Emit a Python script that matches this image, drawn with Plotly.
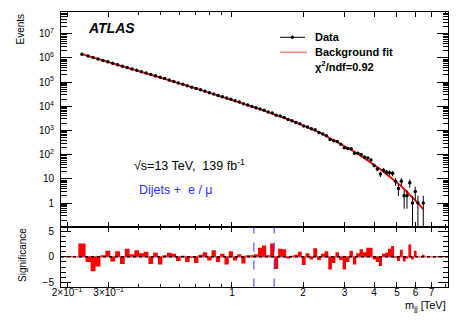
import numpy as np
import plotly.graph_objects as go

# dijet invariant mass bin edges [TeV]
bin_edges = [0.2233, 0.2397, 0.2517, 0.2642, 0.2772, 0.2908, 0.3050, 0.3199, 0.3353, 0.3514,
             0.3682, 0.3858, 0.4040, 0.4229, 0.4427, 0.4635, 0.4850, 0.5072, 0.5305, 0.5548,
             0.5796, 0.6056, 0.6328, 0.6612, 0.6902, 0.7205, 0.7522, 0.7850, 0.8196, 0.8546,
             0.8913, 0.9295, 0.9692, 1.0098, 1.0520, 1.0960, 1.1420, 1.1897, 1.2384, 1.2889,
             1.3414, 1.3961, 1.4516, 1.5095, 1.5696, 1.6319, 1.6969, 1.7627, 1.8310, 1.9019,
             1.9757, 2.0523, 2.1301, 2.2106, 2.294, 2.381, 2.469, 2.559, 2.651, 2.745,
             2.844, 2.942, 3.044, 3.147, 3.253, 3.363, 3.473, 3.587, 3.704, 3.822,
             3.943, 4.068, 4.193, 4.321, 4.454, 4.586, 4.723, 4.863, 5.003, 5.146,
             5.293, 5.440, 5.591, 5.745, 5.899, 6.056, 6.218, 6.384, 6.548]

# observed events per bin
data_events = [1433000, 1204000, 1044000, 909200, 794300, 693000, 602300, 526800, 459100, 403000,
               352300, 308700, 270400, 236500, 206400, 182300, 159400, 140100, 122000, 106600,
               92860, 81360, 70830, 62250, 54420, 48090, 42290, 36770, 32630, 28330,
               25200, 21880, 19650, 17010, 14960, 12850, 11380, 9940, 8717, 7747,
               6829, 5843, 5296, 4329, 4020, 3457, 2884, 2510, 2169, 1903,
               1536, 1406, 1180, 1083, 830, 716, 607, 427, 378, 351,
               270, 196, 182, 178, 115, 115, 102, 80, 73, 61,
               36, 26, 16, 23, 19, 18, 17, 8, 4, 8,
               2, 2, 7, 1, 3, 1, 0, 1]

# background fit per bin
fit_events = [1.43e6, 1.205e6, 1.047e6, 9.11e5, 7.94e5, 6.92e5, 6.03e5, 5.26e5, 4.60e5, 4.02e5,
              3.52e5, 3.08e5, 2.70e5, 2.36e5, 2.07e5, 1.82e5, 1.60e5, 1.40e5, 1.217e5, 1.064e5,
              9.31e4, 8.13e4, 7.11e4, 6.23e4, 5.47e4, 4.80e4, 4.21e4, 3.69e4, 3.24e4, 2.85e4,
              2.51e4, 2.21e4, 1.95e4, 1.71e4, 1.49e4, 1.30e4, 1.135e4, 9910, 8670, 7590,
              6650, 5820, 5110, 4490, 3920, 3370, 2900, 2500, 2150, 1860,
              1600, 1380, 1197, 1028, 847, 700, 580, 482, 402, 335,
              280, 234, 196, 163, 132, 108, 88.0, 71.9, 58.9, 48.3,
              39.4, 31.3, 24.9, 19.9, 15.9, 12.8, 10.3, 8.26, 6.53, 4.99,
              3.83, 2.95, 2.28, 1.77, 1.34, 1.01, 0.754, 0.567]

# significance of data vs fit per bin
significance = [2.6, -1.0, -2.8, -1.9, 0.3, 1.2, -0.9, 1.1, -1.4, 1.6,
                0.5, 1.3, 0.7, 1.0, -1.4, 0.8, -1.5, 0.3, 0.8, 0.6,
                -0.8, 0.2, -1.0, -0.2, -1.2, 0.4, 0.9, -0.7, 1.3, -1.0,
                0.6, -1.5, 1.1, -0.7, 0.5, -1.3, 0.3, 0.3, 0.5, 1.8,
                2.2, 0.3, 2.6, -2.4, 1.6, 1.5, -0.3, 0.2, 0.4, 1.0,
                -1.6, 0.7, -0.5, 1.7, -0.6, 0.6, 1.1, -2.5, -1.2, 0.9,
                -0.6, -2.5, -1.0, 1.2, -1.5, 0.7, 1.5, 0.9, 1.8, 1.8,
                -0.5, -1.0, -1.8, 0.6, 0.8, 1.6, 2.1, -0.2, -0.8, 1.4,
                -0.9, -0.3, 2.4, -0.5, 1.2, 0.0, 0.0, 0.4]

# most discrepant interval (BumpHunter) [TeV]
bump_lo = 1.2384
bump_hi = 1.5095

x_labels = [0.2, 0.3, 1, 2, 3, 4, 5, 6, 7]
x_label_text = ["2×10<sup>−1</sup>", "3×10<sup>−1</sup>", "1", "2", "3", "4", "5", "6", "7"]
y_labels = [1, 10, 1e2, 1e3, 1e4, 1e5, 1e6, 1e7]
y_label_text = ["1", "10", "10<sup>2</sup>", "10<sup>3</sup>", "10<sup>4</sup>",
                "10<sup>5</sup>", "10<sup>6</sup>", "10<sup>7</sup>"]

FONT = "Liberation Sans, Arial, Helvetica, sans-serif"

edges = np.array(bin_edges)
centers = np.sqrt(edges[:-1] * edges[1:])
data = np.array(data_events, dtype=float)
y_data = [v if v > 0 else None for v in data]
err = np.sqrt(data)
err_dn = np.minimum(err, data * 0.999)
sig_step = list(significance) + [significance[-1]]

xr = [np.log10(0.1886), np.log10(8.23)]

fig = go.Figure()

# top panel: fit + data
fig.add_trace(go.Scatter(x=centers, y=fit_events, mode="lines",
                         line=dict(color="#ff0000", width=1.8),
                         xaxis="x", yaxis="y", showlegend=False, hoverinfo="skip"))
fig.add_trace(go.Scatter(x=centers, y=y_data, mode="markers",
                         marker=dict(color="black", size=3.5),
                         error_y=dict(type="data", array=err, arrayminus=err_dn,
                                      color="black", thickness=1, width=0),
                         xaxis="x", yaxis="y", showlegend=False))

# bottom panel: significance histogram
fig.add_trace(go.Scatter(x=edges, y=sig_step, mode="lines",
                         line=dict(color="#ff0000", width=0, shape="hv"),
                         fill="tozeroy", fillcolor="#ff0000",
                         xaxis="x2", yaxis="y2", showlegend=False, hoverinfo="skip"))
fig.add_trace(go.Scatter(x=[0.1886, 8.23], y=[0, 0], mode="lines",
                         line=dict(color="#ff0000", width=1),
                         xaxis="x2", yaxis="y2", showlegend=False, hoverinfo="skip"))
fig.add_trace(go.Scatter(x=[0.1886, 8.23], y=[0, 0], mode="lines",
                         line=dict(color="black", width=1.5, dash="dot"),
                         xaxis="x2", yaxis="y2", showlegend=False, hoverinfo="skip"))
fig.add_trace(go.Scatter(x=[bump_lo, bump_lo, None, bump_hi, bump_hi],
                         y=[-6, 6, None, -6, 6], mode="lines",
                         line=dict(color="#3333ff", width=1, dash="dash"),
                         xaxis="x2", yaxis="y2", showlegend=False, hoverinfo="skip"))

y_minor = [m * 10.0 ** k for k in range(-1, 8) for m in range(2, 10)]
x_minor = [0.4, 0.5, 0.6, 0.7, 0.8, 0.9, 8]

axis_common = dict(showline=True, linecolor="black", linewidth=1, mirror="ticks",
                   ticks="inside", tickcolor="black", showgrid=False, zeroline=False,
                   automargin=False,
                   tickfont=dict(family=FONT, size=10, color="black"))

fig.update_layout(
    width=457, height=324,
    margin=dict(l=61, r=9, t=12, b=37, autoexpand=False),
    paper_bgcolor="white", plot_bgcolor="white",
    font=dict(family=FONT, color="black"),
    xaxis=dict(type="log", range=xr, domain=[0, 1], anchor="y", showticklabels=False,
               tickvals=x_labels, ticklen=5,
               minor=dict(tickvals=x_minor, ticks="inside", ticklen=3, tickcolor="black"),
               **axis_common),
    yaxis=dict(type="log", range=[-0.975, 7.9], domain=[0.2193, 1], anchor="x",
               tickvals=y_labels, ticktext=y_label_text, ticklen=11, ticklabelstandoff=4,
               minor=dict(tickvals=y_minor, ticks="inside", ticklen=5.5, tickcolor="black"),
               **axis_common),
    xaxis2=dict(type="log", range=xr, domain=[0, 1], anchor="y2",
                tickvals=x_labels, ticktext=x_label_text, ticklen=5, ticklabelstandoff=-4,
                minor=dict(tickvals=x_minor, ticks="inside", ticklen=3, tickcolor="black"),
                **axis_common),
    yaxis2=dict(range=[-5.9, 5.9], domain=[0, 0.2193], anchor="x2",
                tickvals=[-5, 0, 5], ticktext=["−5", "0", "5"], ticklen=10, ticklabelstandoff=4,
                minor=dict(dtick=1, ticks="inside", ticklen=5, tickcolor="black"),
                **axis_common),
)

def px(x):
    return (x - 61) / 387

def py(y):
    return (287 - y) / 275

ann = [
    dict(x=px(111), y=py(27.7), text="<b><i>ATLAS</i></b>", xanchor="center", yanchor="middle",
         font=dict(size=14)),
    dict(x=px(313.3), y=py(37.3), text="<b>Data</b>", xanchor="left", yanchor="middle",
         font=dict(size=11)),
    dict(x=px(313.3), y=py(51.7), text="<b>Background fit</b>", xanchor="left", yanchor="middle",
         font=dict(size=11)),
    dict(x=px(313.3), y=py(65.7), text="<b>χ<sup>2</sup>/ndf=0.92</b>", xanchor="left",
         yanchor="middle", font=dict(size=11)),
    dict(x=px(132), y=py(165), text="√s=13 TeV,  139 fb<sup>-1</sup>", xanchor="left",
         yanchor="middle", font=dict(size=12.5)),
    dict(x=px(137), y=py(190), text="Dijets +  e / μ", xanchor="left", yanchor="middle",
         font=dict(size=12.5, color="#3333ff")),
    dict(x=px(20), y=py(12), text="Events", textangle=-90, xanchor="center", yanchor="top",
         font=dict(size=10)),
    dict(x=px(22), y=py(255), text="Significance", textangle=-90, xanchor="center",
         yanchor="middle", font=dict(size=10)),
    dict(x=1.0, y=py(306), text="m<sub>jj</sub> [TeV]", xanchor="right", yanchor="middle",
         font=dict(size=11)),
]
for a in ann:
    a.update(xref="paper", yref="paper", showarrow=False)
fig.update_layout(annotations=ann)

fig.update_layout(shapes=[
    dict(type="line", xref="paper", yref="paper", x0=px(280), x1=px(305), y0=py(37.3), y1=py(37.3),
         line=dict(color="black", width=1)),
    dict(type="circle", xref="paper", yref="paper", x0=px(290.8), x1=px(294.2),
         y0=py(39.0), y1=py(35.6), fillcolor="black", line=dict(color="black", width=0)),
    dict(type="line", xref="paper", yref="paper", x0=px(280), x1=px(307), y0=py(52.3), y1=py(52.3),
         line=dict(color="#ff7f7f", width=1.5)),
])

# the page's default body margin would shift the figure by 8px
fig.write_html("out.html", config={"displayModeBar": False},
               post_script="document.body.style.margin='0';")
